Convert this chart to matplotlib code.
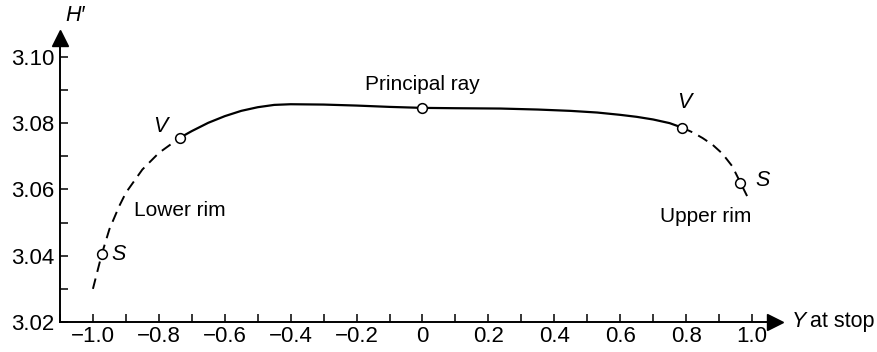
import numpy as np
import matplotlib.pyplot as plt
from matplotlib.ticker import MultipleLocator, FuncFormatter

plt.rcParams['font.family'] = ['Liberation Sans', 'DejaVu Sans']

# curve
lower_x = [-1.0, -0.973, -0.95, -0.92, -0.9, -0.85, -0.8, -0.736]
lower_y = [3.030, 3.0405, 3.048, 3.055, 3.059, 3.066, 3.071, 3.0756]
mid_x = [-0.736, -0.7, -0.65, -0.6, -0.55, -0.5, -0.45, -0.4, -0.3, -0.2, -0.1, 0.0,
         0.1, 0.237, 0.35, 0.449, 0.53, 0.6, 0.65, 0.7, 0.75, 0.789]
mid_y = [3.0756, 3.0776, 3.0801, 3.0821, 3.0837, 3.0848, 3.0855, 3.0857, 3.0856, 3.0853,
         3.0849, 3.0846, 3.0845, 3.0844, 3.0841, 3.0837, 3.0832, 3.0825, 3.0819, 3.0811,
         3.0800, 3.0786]
upper_x = [0.789, 0.82, 0.85, 0.88, 0.91, 0.94, 0.965, 0.985]
upper_y = [3.0786, 3.0772, 3.0755, 3.0735, 3.0708, 3.0670, 3.0620, 3.0580]
pts_x = [-0.973, -0.736, 0.0, 0.789, 0.965]
pts_y = [3.0405, 3.0756, 3.0846, 3.0786, 3.0620]

fig = plt.figure(figsize=(8.78, 3.52), dpi=100)
ax = fig.add_axes([0.0683, 0.0852, 0.8145, 0.807])

ax.plot(lower_x, lower_y, color='black', lw=1.4, ls=(0, (5.5, 3.5)))
ax.plot(mid_x, mid_y, color='black', lw=1.6)
ax.plot(upper_x, upper_y, color='black', lw=1.4, ls=(0, (5.5, 3.5)))
ax.plot(pts_x, pts_y, 'o', ms=7, mfc='white', mec='black', mew=1.1)

ax.set_xlim(-1.1, 1.07)
ax.set_ylim(3.02, 3.1057)

for s in ['top', 'right']:
    ax.spines[s].set_visible(False)
ax.spines['left'].set_linewidth(1.4)
ax.spines['bottom'].set_linewidth(1.4)

ax.plot(1, 0, '>k', ms=11, transform=ax.transAxes, clip_on=False)
ax.plot(0, 1, '^k', ms=11, transform=ax.transAxes, clip_on=False)

ax.xaxis.set_minor_locator(MultipleLocator(0.1))
ax.yaxis.set_minor_locator(MultipleLocator(0.01))
ax.set_xticks(np.arange(-1.0, 1.01, 0.2))
ax.set_yticks(np.arange(3.02, 3.101, 0.02))

def xfmt(v, p):
    if abs(v) < 1e-9:
        return '0'
    return ('%.1f' % v).replace('-', '\u2212')

ax.xaxis.set_major_formatter(FuncFormatter(xfmt))
ax.yaxis.set_major_formatter(FuncFormatter(lambda v, p: '%.2f' % v))
ax.tick_params(which='both', direction='in', length=6, width=1.1, labelsize=16, color='black')
ax.tick_params(axis='x', pad=3)
ax.tick_params(axis='y', pad=4)

ax.text(-1.085, 3.1124, "H\u2032", style='italic', fontsize=15.5, ha='left', va='center')
ax.text(1.12, 3.0202, "Y", style='italic', fontsize=15.5, ha='left', va='center')
ax.text(1.175, 3.0202, "at stop", fontsize=15.5, ha='left', va='center')

ax.text(0.0, 3.0918, "Principal ray", fontsize=15, ha='center', va='center')
ax.text(-0.794, 3.0789, "V", style='italic', fontsize=15.5, ha='center', va='center')
ax.text(-0.945, 3.0405, "S", style='italic', fontsize=15.5, ha='left', va='center')
ax.text(-0.876, 3.0535, "Lower rim", fontsize=15, ha='left', va='center')
ax.text(0.794, 3.0861, "V", style='italic', fontsize=15.5, ha='center', va='center')
ax.text(1.009, 3.0626, "S", style='italic', fontsize=15.5, ha='left', va='center')
ax.text(0.72, 3.0517, "Upper rim", fontsize=15, ha='left', va='center')

fig.savefig('out.png', dpi=100)
